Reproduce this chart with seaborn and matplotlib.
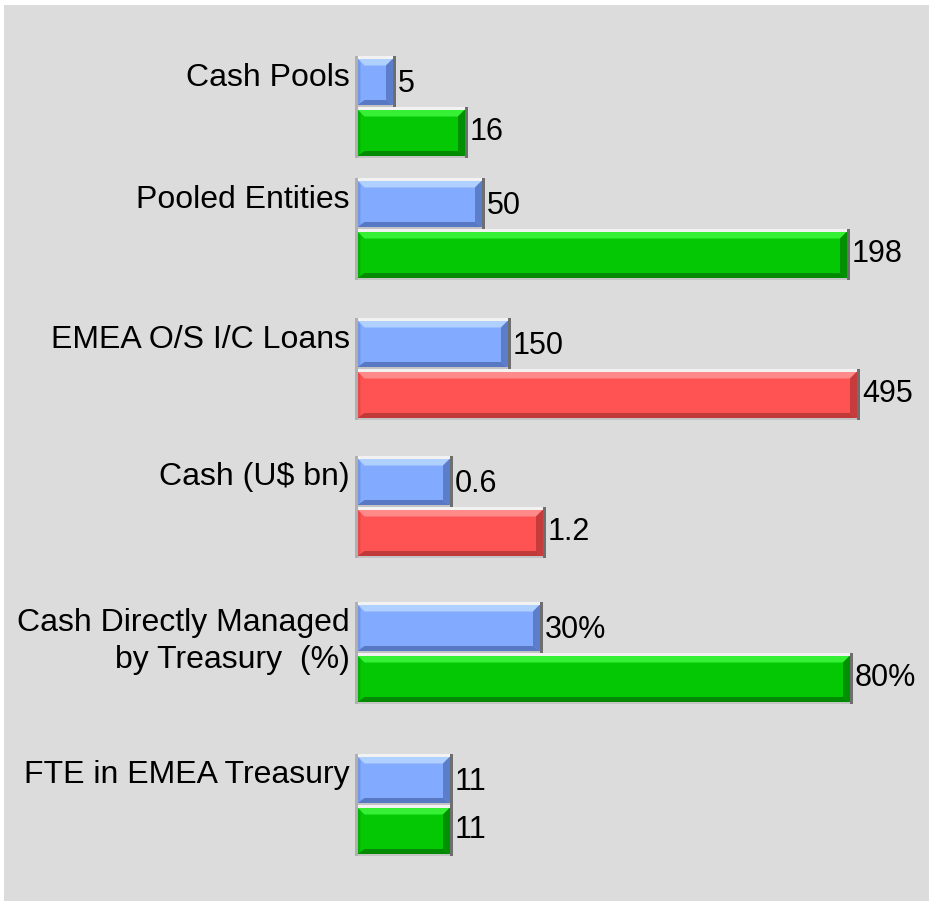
import numpy as np
import pandas as pd
import matplotlib
matplotlib.use("Agg")
import matplotlib.pyplot as plt
from matplotlib.patches import Rectangle, Polygon
import seaborn as sns

# ── Data ──────────────────────────────────────────────────────────────────────
categories = [
    "Cash Pools",
    "Pooled Entities",
    "EMEA O/S I/C Loans",
    "Cash (U$ bn)",
    "Cash Directly Managed\nby Treasury  (%)",
    "FTE in EMEA Treasury",
]
before_labels = ["5", "50", "150", "0.6", "30%", "11"]
after_labels = ["16", "198", "495", "1.2", "80%", "11"]
# bar lengths as drawn (each metric has its own scale in the original)
before_length = [41, 130, 156, 98, 188, 98]
after_length = [113, 495, 505, 191, 498, 98]
after_status = ["green", "green", "red", "red", "green", "green"]

# ── Layout / style ────────────────────────────────────────────────────────────
W, H = 933, 901
X0 = 355                                   # pixel where bars start
GROUP_Y = [107, 229, 369, 507, 653, 805]   # group centres (pixels from top)
HALF = 25.5

FILL = {"blue": "#82aaff", "green": "#04c804", "red": "#ff5252"}
LIGHT = {"blue": "#b0d0ff", "green": "#36f036", "red": "#ff8a8a"}
DARK = {"blue": "#5878c4", "green": "#028a02", "red": "#c03a3a"}
FONT = ["Liberation Sans", "DejaVu Sans"]

rows = []
for c, y, bl, al, st in zip(categories, GROUP_Y, before_length, after_length, after_status):
    rows.append({"cat": c, "pos": y - HALF, "len": bl, "status": "blue"})
    rows.append({"cat": c, "pos": y + HALF, "len": al, "status": st})
df = pd.DataFrame(rows)


def bevel(ax, p, key):
    """Raised-button look: light rim, highlight on top, shade on bottom/right."""
    x, y, w, h = p.get_x(), p.get_y(), p.get_width(), p.get_height()
    if h < 0:
        y, h = y + h, -h
    x1, y1 = x + w, y + h
    # outer frame
    ax.add_patch(Rectangle((x, y), w, 2.5, color="#f2f2f2", lw=0, zorder=4))
    ax.add_patch(Rectangle((x, y1 - 2), w, 2, color="#c4c4c4", lw=0, zorder=4))
    ax.add_patch(Rectangle((x, y), 2.5, h, color="#b0b0b0", lw=0, zorder=4))
    ax.add_patch(Rectangle((x1 - 3, y), 3, h, color="#6e6e6e", lw=0, zorder=4))
    # inner bevel
    ix, iy, ix1, iy1 = x + 2.5, y + 2.5, x1 - 3, y1 - 2
    b = 7
    ax.add_patch(Polygon([(ix, iy), (ix1, iy), (ix1 - b, iy + b), (ix + b, iy + b)],
                         closed=True, color=LIGHT[key], lw=0, zorder=3))
    ax.add_patch(Polygon([(ix, iy1), (ix1, iy1), (ix1 - b, iy1 - 5), (ix + b, iy1 - 5)],
                         closed=True, color=DARK[key], lw=0, zorder=3))
    ax.add_patch(Polygon([(ix1, iy), (ix1, iy1), (ix1 - b, iy1 - 5), (ix1 - b, iy + b)],
                         closed=True, color=DARK[key], lw=0, zorder=3, alpha=0.9))
    ax.add_patch(Polygon([(ix, iy), (ix, iy1), (ix + 3, iy1 - 3), (ix + 3, iy + 3)],
                         closed=True, color=DARK[key], lw=0, zorder=3, alpha=0.35))


sns.set_theme(style="white")
plt.rcParams["font.family"] = FONT

fig = plt.figure(figsize=(W / 100, H / 100), dpi=100)
fig.patch.set_facecolor("white")
ax = fig.add_axes([0, 0, 1, 1])

sns.barplot(
    data=df, x="len", y="pos", orient="h", native_scale=True,
    hue="status", palette=FILL, dodge=False, legend=False,
    errorbar=None, width=1.0, saturation=1, linewidth=0, ax=ax,
)
bars = list(ax.patches)

ax.set_xlim(-X0, W - X0)
ax.set_ylim(H, 0)
ax.axis("off")

# grey panel
ax.add_patch(Rectangle((4 - X0, 5), 925, 896, color="#dcdcdc", lw=0, zorder=0))

for p in bars:
    p.set_zorder(2)
    yc = p.get_y() + p.get_height() / 2
    key = df.loc[(df["pos"] - yc).abs().idxmin(), "status"]
    bevel(ax, p, key)

for c, y, bl, al, bt, at in zip(categories, GROUP_Y, before_length, after_length,
                                before_labels, after_labels):
    ax.text(-5, y - HALF - 19, c, ha="right", va="top", fontsize=23,
            linespacing=1.3, color="black")
    ax.text(bl + 2, y - HALF + 2, bt, ha="left", va="center", fontsize=22, color="black")
    ax.text(al + 2, y + HALF, at, ha="left", va="center", fontsize=22, color="black")

fig.savefig("out.png", dpi=100)
